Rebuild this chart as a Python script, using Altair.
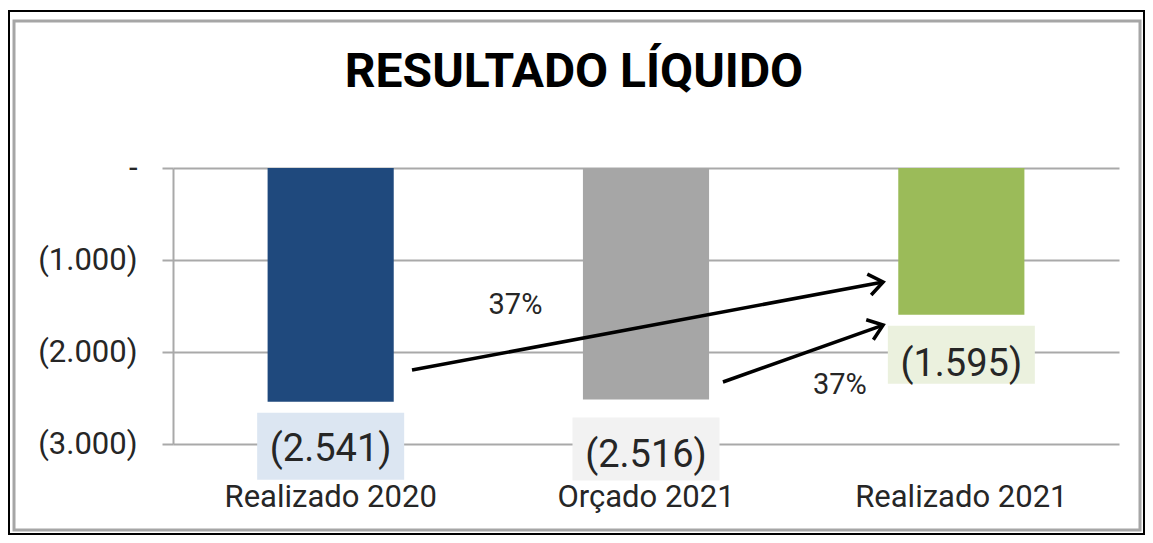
import math
import altair as alt
import pandas as pd

# ---------------- data ----------------
title_text = "RESULTADO LÍQUIDO"
categories = ["Realizado 2020", "Orçado 2021", "Realizado 2021"]
values = [-2541, -2516, -1595]
value_labels = ["(2.541)", "(2.516)", "(1.595)"]
y_ticks = [0, -1000, -2000, -3000]

# annotation arrows (x in category units 0..3, y in data units)
arrow_x_start = [0.758, 1.744]
arrow_y_start = [-2196, -2326]
arrow_x_end = [2.252, 2.252]
arrow_y_end = [-1239, -1707]
pct_labels = ["37%", "37%"]
pct_x = [1.086, 2.115]
pct_y = [-1489, -2359]

# ---------------- style / layout ----------------
bar_colors = ["#1F497D", "#A6A6A6", "#9BBB59"]
box_colors = ["#DCE6F2", "#F2F2F2", "#EBF1DE"]
FONT = "Roboto"
TEXT_COLOR = "#262626"
GRID = "#A9A9A9"
W, H = 946, 276
Y_DOMAIN = [-3000, 0]
VPP = (Y_DOMAIN[1] - Y_DOMAIN[0]) / H          # data units per pixel
STEP = W / 3.0
box_drop = [11, 18, 11]      # px between bar end and label box
box_height = [67, 63, 58]    # px
box_half = 73.5 / STEP       # category units
text_drop = [37, 39, 39]     # px from box top to text centre

yscale = alt.Scale(domain=Y_DOMAIN, nice=False)
qscale = alt.Scale(domain=[0, 3], nice=False, zero=False)
y_axis = alt.Axis(values=y_ticks, title=None,
                  labelExpr="datum.value == 0 ? '-' : '(' + replace(format(-datum.value, ',.0f'), ',', '.') + ')'",
                  labelFont=FONT, labelFontSize=31, labelColor=TEXT_COLOR,
                  labelPadding=25, tickSize=11, tickColor=GRID, tickWidth=2,
                  domainColor=GRID, domainWidth=2,
                  grid=True, gridColor=GRID, gridWidth=2)

bars_df = pd.DataFrame({"cat": categories, "value": values})

boxes_df = pd.DataFrame({
    "cat": categories,
    "label": value_labels,
    "qc": [i + 0.5 for i in range(3)],
    "q1": [i + 0.5 - box_half for i in range(3)],
    "q2": [i + 0.5 + box_half for i in range(3)],
    "y1": [v - d * VPP for v, d in zip(values, box_drop)],
    "y2": [v - (d + h) * VPP for v, d, h in zip(values, box_drop, box_height)],
    "ty": [v - (d + t) * VPP for v, d, t in zip(values, box_drop, text_drop)],
})

angles = []
for xs, ys, xe, ye in zip(arrow_x_start, arrow_y_start, arrow_x_end, arrow_y_end):
    dx = (xe - xs) * STEP
    dy = -(ye - ys) / VPP
    angles.append(math.degrees(math.atan2(dy, dx)) % 360)

arrows_df = pd.DataFrame({
    "xs": arrow_x_start, "ys": arrow_y_start,
    "xe": arrow_x_end, "ye": arrow_y_end, "ang": angles,
})
pct_df = pd.DataFrame({"label": pct_labels, "px": pct_x, "py": pct_y})
one = pd.DataFrame({"a": [0]})
title_df = pd.DataFrame({"t": [title_text]})

# ---------------- layers ----------------
frame_black = alt.Chart(one).mark_rect(fillOpacity=0, stroke="black", strokeWidth=2).encode(
    x=alt.value(-164), x2=alt.value(971), y=alt.value(-157), y2=alt.value(366))
frame_gray = alt.Chart(one).mark_rect(fillOpacity=0, stroke="#A6A6A6", strokeWidth=3).encode(
    x=alt.value(-159), x2=alt.value(967), y=alt.value(-147), y2=alt.value(362))

title = alt.Chart(title_df).mark_text(font=FONT, fontSize=48, fontWeight="bold", color="black",
                                      align="center", baseline="alphabetic").encode(
    x=alt.value(401), y=alt.value(-81), text="t:N")

bars = alt.Chart(bars_df).mark_bar().encode(
    x=alt.X("cat:N", sort=categories,
            scale=alt.Scale(paddingInner=0.6, paddingOuter=0.3),
            axis=alt.Axis(title=None, domain=False, ticks=False, tickSize=0,
                          labelAngle=0, labelFont=FONT, labelFontSize=31,
                          labelColor=TEXT_COLOR, labelPadding=53, labelLimit=0,
                          labelBaseline="middle")),
    y=alt.Y("value:Q", scale=yscale, axis=y_axis),
    color=alt.Color("cat:N", scale=alt.Scale(domain=categories, range=bar_colors), legend=None),
)

boxes = alt.Chart(boxes_df).mark_rect().encode(
    x=alt.X("q1:Q", scale=qscale, axis=None),
    x2="q2",
    y=alt.Y("y1:Q", scale=yscale, axis=y_axis),
    y2="y2",
    color=alt.Color("cat:N", scale=alt.Scale(domain=categories, range=box_colors), legend=None),
)

box_text = alt.Chart(boxes_df).mark_text(font=FONT, fontSize=38, color=TEXT_COLOR,
                                         baseline="middle", align="center").encode(
    x=alt.X("qc:Q", scale=qscale, axis=None),
    y=alt.Y("ty:Q", scale=yscale, axis=y_axis),
    text="label:N",
)

rules = alt.Chart(arrows_df).mark_rule(color="black", strokeWidth=3.5).encode(
    x=alt.X("xs:Q", scale=qscale, axis=None),
    x2="xe",
    y=alt.Y("ys:Q", scale=yscale, axis=y_axis),
    y2="ye",
)

heads = alt.Chart(arrows_df).mark_point(
    shape="M-1,-0.75L0,0L-1,0.75", filled=False, color="black",
    strokeWidth=3.5, size=800, opacity=1, strokeJoin="miter").encode(
    x=alt.X("xe:Q", scale=qscale, axis=None),
    y=alt.Y("ye:Q", scale=yscale, axis=y_axis),
    angle=alt.Angle("ang:Q", scale=None),
)

pct = alt.Chart(pct_df).mark_text(font=FONT, fontSize=29, color=TEXT_COLOR,
                                  baseline="middle", align="center").encode(
    x=alt.X("px:Q", scale=qscale, axis=None),
    y=alt.Y("py:Q", scale=yscale, axis=y_axis),
    text="label:N",
)

chart = alt.layer(frame_black, frame_gray, title, bars, boxes, box_text, rules, heads, pct).resolve_scale(
    x="independent", color="independent"
).properties(
    width=W, height=H,
    autosize=alt.AutoSizeParams(type="none"),
    padding={"left": 165, "top": 160, "right": 26, "bottom": 91},
    background="white",
).configure_view(strokeWidth=0)

chart.save("out.html", embed_options={"renderer": "svg", "actions": False})
